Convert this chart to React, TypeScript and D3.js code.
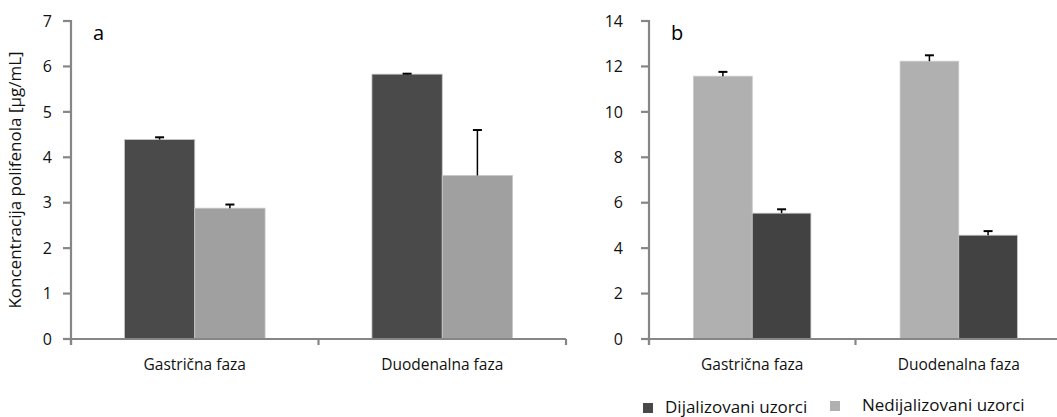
import React from 'react'
import * as d3 from 'd3'

const phases = ['Gastrična faza', 'Duodenalna faza']

// panel a
const aSeries = ['Dijalizovani uzorci', 'Nedijalizovani uzorci']
const aValues = [
  [4.39, 5.83],
  [2.88, 3.6],
]
const aErrors = [
  [0.05, 0.01],
  [0.08, 1.0],
]
const aTicks = [0, 1, 2, 3, 4, 5, 6, 7]

// panel b (light bars first)
const bSeries = ['Nedijalizovani uzorci', 'Dijalizovani uzorci']
const bValues = [
  [11.57, 12.23],
  [5.54, 4.57],
]
const bErrors = [
  [0.19, 0.26],
  [0.17, 0.18],
]
const bTicks = [0, 2, 4, 6, 8, 10, 12, 14]

const legendItems = ['Dijalizovani uzorci', 'Nedijalizovani uzorci']

const FONT = '"Open Sans", sans-serif'
const AXIS = '#868686'

type PanelProps = {
  x0: number
  x1: number
  yMax: number
  ticks: number[]
  series: string[]
  values: number[][]
  errors: number[][]
  colors: string[]
  letter: string
  labelGap: number
}

function Panel({ x0, x1, yMax, ticks, series, values, errors, colors, letter, labelGap }: PanelProps) {
  const y = d3.scaleLinear().domain([0, yMax]).range([339, 21])
  const xc = d3.scaleBand().domain(phases).range([x0, x1]).paddingInner(0).paddingOuter(0)
  const xs = d3
    .scaleBand()
    .domain(series)
    .range([0, xc.bandwidth()])
    .paddingInner(0)
    .paddingOuter(0.76)

  return (
    <g>
      {/* bars */}
      {phases.map((p, i) =>
        series.map((s, j) => {
          const bx = (xc(p) as number) + (xs(s) as number)
          const v = values[j][i]
          const e = errors[j][i]
          const cx = bx + xs.bandwidth() / 2
          return (
            <g key={p + s}>
              <rect
                x={bx}
                y={y(v)}
                width={xs.bandwidth()}
                height={y(0) - y(v)}
                fill={colors[j]}
                stroke="#c8c8c8"
                strokeWidth={0.8}
              />
              <line x1={cx} x2={cx} y1={y(v)} y2={y(v + e)} stroke="#000" strokeWidth={1.5} />
              <line x1={cx - 4.5} x2={cx + 4.5} y1={y(v + e)} y2={y(v + e)} stroke="#000" strokeWidth={2} />
            </g>
          )
        })
      )}
      {/* y axis */}
      <line x1={x0} x2={x0} y1={y(yMax) - 1} y2={345} stroke={AXIS} strokeWidth={2.2} />
      {ticks.map((t) => (
        <g key={t}>
          <line x1={x0 - 8} x2={x0} y1={y(t)} y2={y(t)} stroke={AXIS} strokeWidth={2.2} />
          <text
            x={x0 - labelGap}
            y={y(t)}
            dy="0.36em"
            textAnchor="end"
            fontFamily={FONT}
            fontSize={16}
            fill="#111"
          >
            {t}
          </text>
        </g>
      ))}
      {/* x axis */}
      <line x1={x0} x2={x1} y1={y(0)} y2={y(0)} stroke={AXIS} strokeWidth={2.2} />
      {[...phases.map((p) => xc(p) as number), x1].map((t, k) => (
        <line key={k} x1={t} x2={t} y1={y(0)} y2={345} stroke={AXIS} strokeWidth={2.2} />
      ))}
      {phases.map((p) => (
        <text
          key={p}
          x={(xc(p) as number) + xc.bandwidth() / 2}
          y={370}
          textAnchor="middle"
          fontFamily={FONT}
          fontSize={15.5}
          fill="#111"
        >
          {p}
        </text>
      ))}
      <text x={x0 + 22} y={40} fontFamily={FONT} fontSize={20} fill="#000">
        {letter}
      </text>
    </g>
  )
}

export default function App() {
  const legendColors = ['#484848', '#b0b0b0']
  const legendX = [643, 830]
  const legendTextX = [665, 862]
  const legendY = [403, 401]
  return (
    <svg width={1057} height={417} style={{ position: 'absolute', left: 0, top: 0 }}>
      <rect width={1057} height={417} fill="#fff" />
      <text
        transform="translate(21,180) rotate(-90)"
        textAnchor="middle"
        fontFamily={FONT}
        fontSize={17}
        fill="#111"
      >
        Koncentracija polifenola [µg/mL]
      </text>
      <Panel
        x0={71}
        x1={566}
        yMax={7}
        ticks={aTicks}
        series={aSeries}
        values={aValues}
        errors={aErrors}
        colors={['#4a4a4a', '#a0a0a0']}
        letter="a"
        labelGap={19}
      />
      <Panel
        x0={649}
        x1={1062}
        yMax={14}
        ticks={bTicks}
        series={bSeries}
        values={bValues}
        errors={bErrors}
        colors={['#b0b0b0', '#424242']}
        letter="b"
        labelGap={26}
      />
      {legendItems.map((s, i) => (
        <g key={s}>
          <rect x={legendX[i]} y={legendY[i]} width={10} height={10} fill={legendColors[i]} />
          <text x={legendTextX[i]} y={legendY[i] + 10} fontFamily={FONT} fontSize={17} fill="#111">
            {s}
          </text>
        </g>
      ))}
    </svg>
  )
}
